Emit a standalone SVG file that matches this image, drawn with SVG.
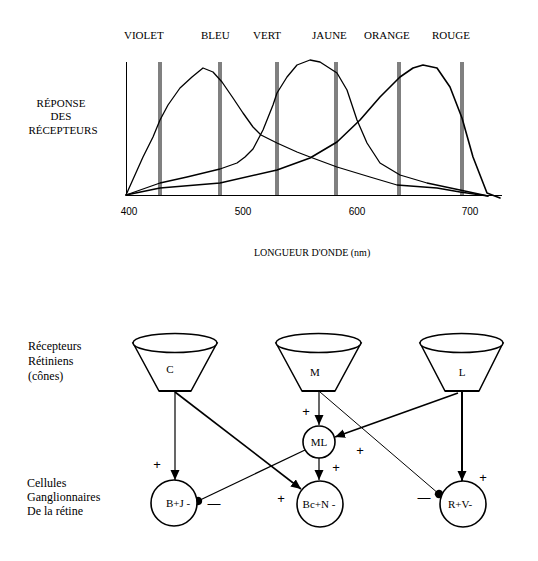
<svg xmlns="http://www.w3.org/2000/svg" width="538" height="561" viewBox="0 0 538 561">
<style>
.lbl{font-family:"Liberation Serif","Times New Roman",serif;font-size:11px;fill:#000}
.side{font-family:"Liberation Serif","Times New Roman",serif;font-size:12px;fill:#000}
.num{font-family:"Liberation Sans",Arial,sans-serif;font-size:10px;fill:#000;text-anchor:middle}
.sign{font-family:"Liberation Sans",Arial,sans-serif;font-size:13px;fill:#000;text-anchor:middle}
.bar{stroke:#808080;stroke-width:4}
.curve{fill:none;stroke:#000;stroke-linejoin:round;stroke-linecap:round}
.cone{fill:#fff;stroke:#000;stroke-width:1.5}
.cell{fill:#fff;stroke:#000;stroke-width:1.6}
.in{font-family:"Liberation Serif","Times New Roman",serif;font-size:11px;fill:#000}
.conn{fill:none;stroke:#000}
</style>
<defs>
<marker id="arr" markerUnits="userSpaceOnUse" markerWidth="12" markerHeight="10" refX="10" refY="4.5" orient="auto">
<path d="M0,0 L10,4.5 L0,9 Z" fill="#000"/>
</marker>
<marker id="dot" markerUnits="userSpaceOnUse" markerWidth="10" markerHeight="10" refX="5" refY="5" orient="auto">
<circle cx="5" cy="5" r="4.2" fill="#000"/>
</marker>
</defs>
<rect width="538" height="561" fill="#fff"/>

<g id="chart">
<text class="lbl" x="124" y="39">VIOLET</text>
<text class="lbl" x="201" y="39">BLEU</text>
<text class="lbl" x="253" y="39">VERT</text>
<text class="lbl" x="312" y="39">JAUNE</text>
<text class="lbl" x="364" y="39">ORANGE</text>
<text class="lbl" x="432" y="39">ROUGE</text>
<text class="lbl" x="61" y="107" text-anchor="middle">RÉPONSE</text>
<text class="lbl" x="61" y="120" text-anchor="middle">DES</text>
<text class="lbl" x="63" y="134" text-anchor="middle">RÉCEPTEURS</text>
<line class="bar" x1="160" y1="62" x2="160" y2="195"/>
<line class="bar" x1="220" y1="62" x2="220" y2="195"/>
<line class="bar" x1="277" y1="62" x2="277" y2="195"/>
<line class="bar" x1="336" y1="62" x2="336" y2="195"/>
<line class="bar" x1="399" y1="62" x2="399" y2="195"/>
<line class="bar" x1="462" y1="62" x2="462" y2="195"/>
<line x1="126.5" y1="62" x2="126.5" y2="195" stroke="#000" stroke-width="1"/>
<line x1="126" y1="195.5" x2="502" y2="195.5" stroke="#000" stroke-width="1"/>
<polyline class="curve" stroke-width="1.3" points="126,195 143,157 153,137 160,120 168,105 180,88 192,77 203,68 213,72 222,82 233,98 243,113 253,127 261,135 277,143 297,152 310,157 337,167 370,177 397,185 437,188 460,192 488,196"/>
<polyline class="curve" stroke-width="1.3" points="126,195 160,183 187,177 220,169 237,163 245,157 253,149 263,130 273,105 277,93 287,77 297,65 310,60 320,62 337,73 347,90 357,120 367,143 380,163 400,175 427,183 460,190 488,196"/>
<polyline class="curve" stroke-width="1.6" points="126,195 160,188 220,183 277,170 310,158 337,142 360,120 380,97 400,77 413,68 423,65 437,68 450,87 462,118 473,157 487,193 500,198"/>
<text class="num" x="129" y="215">400</text>
<text class="num" x="243" y="215">500</text>
<text class="num" x="357" y="215">600</text>
<text class="num" x="470" y="215">700</text>
<text class="lbl" x="254" y="256" style="font-size:10px">LONGUEUR D'ONDE (nm)</text>
</g>

<g id="labels">
<text class="side" x="28" y="350">Récepteurs</text>
<text class="side" x="28" y="365">Rétiniens</text>
<text class="side" x="28" y="380">(cônes)</text>
<text class="side" x="27" y="487">Cellules</text>
<text class="side" x="27" y="501">Ganglionnaires</text>
<text class="side" x="27" y="515">De la rétine</text>
</g>

<g id="connectors">
<line class="conn" x1="175" y1="392" x2="175" y2="480" stroke-width="1.2" marker-end="url(#arr)"/>
<line class="conn" x1="175" y1="392" x2="301" y2="489" stroke-width="1.6" marker-end="url(#arr)"/>
<line class="conn" x1="319" y1="392" x2="319" y2="425" stroke-width="1.2" marker-end="url(#arr)"/>
<line class="conn" x1="319" y1="458" x2="319" y2="480" stroke-width="1.2" marker-end="url(#arr)"/>
<line class="conn" x1="320" y1="392" x2="439" y2="494" stroke-width="1" marker-end="url(#dot)"/>
<line class="conn" x1="462" y1="392" x2="462" y2="481" stroke-width="2" marker-end="url(#arr)"/>
<line class="conn" x1="458" y1="393" x2="335" y2="437" stroke-width="1.5" marker-end="url(#arr)"/>
<line class="conn" x1="305" y1="450" x2="198" y2="501" stroke-width="1.3" marker-end="url(#dot)"/>
<text class="sign" x="157" y="469">+</text>
<text class="sign" x="214" y="508">—</text>
<text class="sign" x="306" y="416">+</text>
<text class="sign" x="336" y="472">+</text>
<text class="sign" x="360" y="455">+</text>
<text class="sign" x="281" y="503">+</text>
<text class="sign" x="424" y="502">—</text>
<text class="sign" x="483" y="482">+</text>
</g>

<g id="cone-C">
<path class="cone" d="M133,343 L159,391 L191,391 L217,343 Z"/>
<line x1="159" y1="391" x2="191" y2="391" stroke="#000" stroke-width="2"/>
<ellipse class="cone" cx="175" cy="343" rx="42" ry="9.5"/>
<text class="in" x="170" y="373" text-anchor="middle">C</text>
</g>
<g id="cone-M">
<path class="cone" d="M276,343 L302,391 L335,391 L361,343 Z"/>
<line x1="302" y1="391" x2="335" y2="391" stroke="#000" stroke-width="2"/>
<ellipse class="cone" cx="318.5" cy="343" rx="42.5" ry="9.5"/>
<text class="in" x="315" y="376" text-anchor="middle">M</text>
</g>
<g id="cone-L">
<path class="cone" d="M420,343 L445,391 L479,391 L503,343 Z"/>
<line x1="445" y1="391" x2="479" y2="391" stroke="#000" stroke-width="2"/>
<ellipse class="cone" cx="461.5" cy="343" rx="41.5" ry="9.5"/>
<text class="in" x="462" y="376" text-anchor="middle">L</text>
</g>

<g id="node-ML">
<circle class="cell" cx="319" cy="442" r="16"/>
<text class="in" x="319" y="446" text-anchor="middle">ML</text>
</g>
<g id="node-BJ">
<circle class="cell" cx="174" cy="503" r="23"/>
<text class="in" x="178" y="507" text-anchor="middle">B+J -</text>
</g>
<g id="node-BcN">
<circle class="cell" cx="320" cy="504" r="23"/>
<text class="in" x="319" y="508" text-anchor="middle">Bc+N -</text>
</g>
<g id="node-RV">
<circle class="cell" cx="463" cy="504" r="23"/>
<text class="in" x="460" y="508" text-anchor="middle">R+V-</text>
</g>
</svg>
